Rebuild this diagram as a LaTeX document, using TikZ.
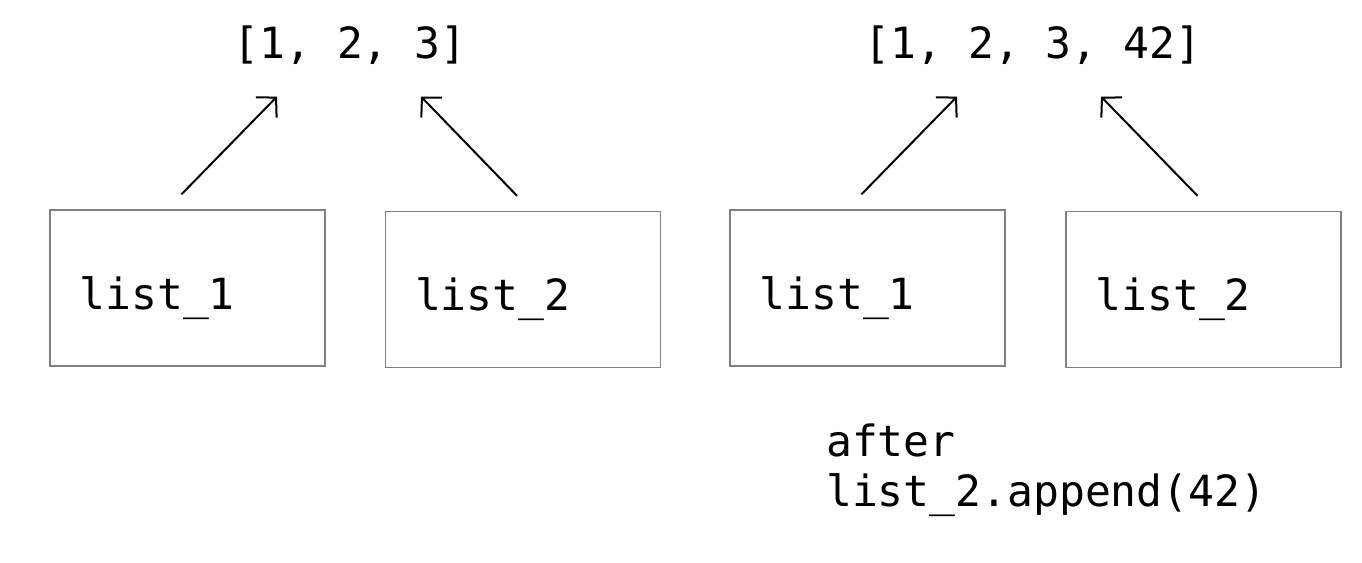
\documentclass[tikz,border=0pt]{standalone}
\usepackage{fontspec}
\setmonofont{DejaVu Sans Mono}
\usetikzlibrary{arrows.meta,positioning,calc}

\begin{document}
\begin{tikzpicture}[x=1pt,y=-1pt,
  var/.style={
    draw=gray, line width=1.4pt, minimum width=275pt, minimum height=156pt
  },
  lst/.style={font=\codefont, inner sep=0pt},
  ref/.style={-{Straight Barb[length=14pt,width=29pt]}, line width=2pt},
]
\newcommand{\codefont}{\ttfamily\fontsize{43}{50}\selectfont}
\useasboundingbox (0,0) rectangle (1362,562);
% before: both names share one list
\node[lst] (l1) at (350,45) {[1, 2, 3]};
\node[var] (a1) at (187.5,288) {};
\node[var] (a2) at (523,289.5) {};
% after the append
\node[lst] (l2) at (1033,45) {[1, 2, 3, 42]};
\node[var] (b1) at (867.5,288) {};
\node[var] (b2) at (1203.5,289.5) {};
\node[lst, anchor=north west, align=left] (note) at (826,424) {after\\list\_2.append(42)};
% names in the boxes
\foreach \v/\t in {a1/list\_1,a2/list\_2,b1/list\_1,b2/list\_2}{
  \node[lst, anchor=base west] (n\v) at ($(\v.west)+(30,21)$) {\t};
}
% references
\foreach \v/\l/\dx/\hx in {a1/l1/-6/-73,a2/l1/-6/71,b1/l2/-6/-76,b2/l2/-6/68}{
  \coordinate (s\v) at ($(\v.north)+(\dx,-15)$);
  \coordinate (h\v) at ($(\l.south)+(\hx,32)$);
  \draw[ref] (s\v) -- (h\v);
}
\end{tikzpicture}
\end{document}
